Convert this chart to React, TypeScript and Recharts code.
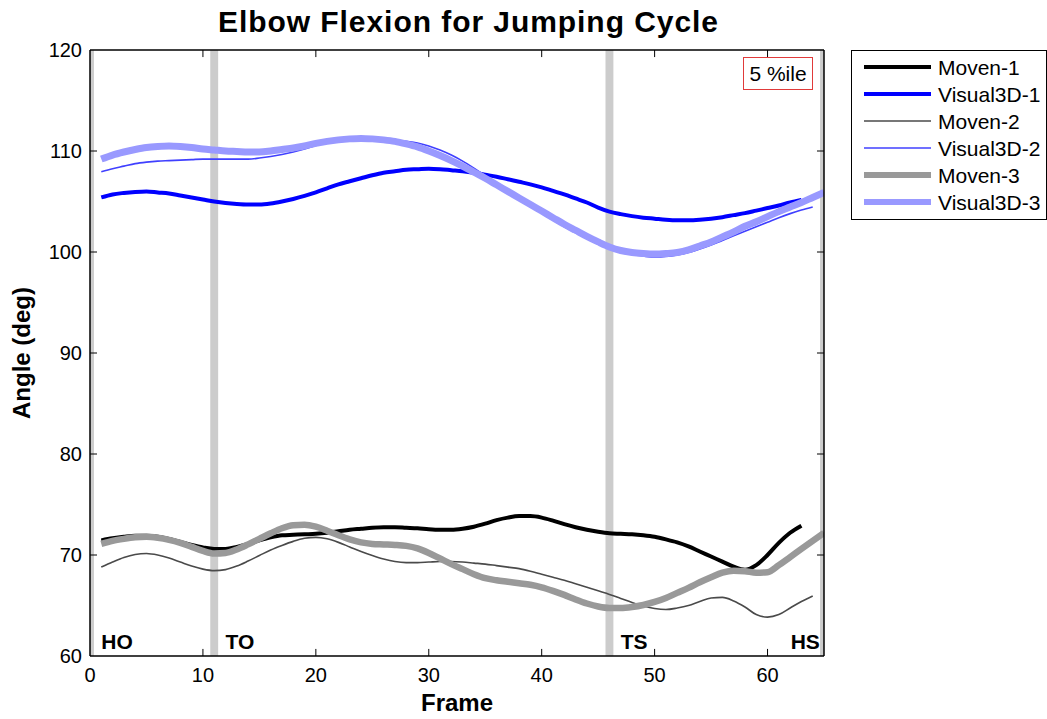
import React from 'react';
import { LineChart, Line, XAxis, YAxis, ReferenceArea, ReferenceLine, ReferenceDot } from 'recharts';

// ---- data (frame index starts at 1) ----
const moven1 = [71.45, 71.65, 71.8, 71.9, 71.9, 71.8, 71.6, 71.3, 71.0, 70.75, 70.6, 70.6, 70.8, 71.1, 71.45, 71.75, 71.95, 72.0, 72.05, 72.1, 72.2, 72.35, 72.5, 72.6, 72.7, 72.75, 72.75, 72.7, 72.65, 72.55, 72.5, 72.5, 72.6, 72.8, 73.1, 73.45, 73.7, 73.85, 73.85, 73.7, 73.4, 73.05, 72.75, 72.5, 72.3, 72.15, 72.1, 72.05, 71.95, 71.8, 71.55, 71.25, 70.85, 70.35, 69.85, 69.35, 68.85, 68.55, 69.0, 70.0, 71.2, 72.2, 72.9];
const visual3d1 = [105.4, 105.7, 105.85, 105.95, 106.0, 105.9, 105.8, 105.6, 105.4, 105.2, 105.0, 104.85, 104.75, 104.7, 104.7, 104.8, 105.0, 105.25, 105.55, 105.9, 106.3, 106.7, 107.0, 107.3, 107.6, 107.85, 108.0, 108.15, 108.2, 108.25, 108.2, 108.1, 108.0, 107.85, 107.65, 107.45, 107.2, 106.95, 106.7, 106.4, 106.05, 105.7, 105.3, 104.9, 104.4, 104.0, 103.75, 103.55, 103.4, 103.3, 103.2, 103.15, 103.15, 103.2, 103.3, 103.45, 103.65, 103.85, 104.1, 104.35, 104.6, 104.9, 105.15];
const moven2 = [68.8, 69.3, 69.75, 70.05, 70.15, 70.0, 69.7, 69.3, 68.9, 68.6, 68.45, 68.55, 68.9, 69.4, 69.95, 70.5, 70.95, 71.35, 71.65, 71.75, 71.6, 71.25, 70.8, 70.35, 69.95, 69.6, 69.35, 69.25, 69.25, 69.3, 69.35, 69.35, 69.3, 69.2, 69.1, 68.95, 68.8, 68.65, 68.4, 68.1, 67.8, 67.5, 67.15, 66.8, 66.45, 66.1, 65.7, 65.3, 64.95, 64.7, 64.6, 64.75, 65.0, 65.4, 65.75, 65.8, 65.45, 64.85, 64.1, 63.85, 64.1, 64.75, 65.4, 65.95];
const visual3d2 = [107.95, 108.25, 108.5, 108.75, 108.9, 109.0, 109.05, 109.1, 109.15, 109.2, 109.2, 109.2, 109.2, 109.2, 109.3, 109.45, 109.65, 109.9, 110.2, 110.55, 110.85, 111.1, 111.25, 111.3, 111.3, 111.2, 111.05, 110.95, 110.8, 110.5, 110.1, 109.6, 109.0, 108.3, 107.55, 106.8, 106.05, 105.3, 104.55, 103.85, 103.15, 102.5, 101.9, 101.35, 100.8, 100.35, 100.0, 99.75, 99.6, 99.5, 99.55, 99.7, 99.95, 100.3, 100.7, 101.15, 101.6, 102.05, 102.5, 102.95, 103.4, 103.8, 104.15, 104.45];
const moven3 = [71.1, 71.4, 71.6, 71.75, 71.8, 71.7, 71.5, 71.2, 70.8, 70.4, 70.15, 70.2, 70.55, 71.05, 71.6, 72.15, 72.65, 72.95, 73.0, 72.8, 72.4, 71.95, 71.55, 71.25, 71.1, 71.05, 71.0, 70.9, 70.65, 70.2, 69.65, 69.1, 68.6, 68.1, 67.7, 67.5, 67.35, 67.2, 67.05, 66.8, 66.45, 66.05, 65.6, 65.2, 64.9, 64.75, 64.75, 64.85, 65.05, 65.35, 65.75, 66.25, 66.75, 67.3, 67.8, 68.25, 68.45, 68.4, 68.25, 68.3, 69.0, 69.8, 70.6, 71.4, 72.2];
const visual3d3 = [109.2, 109.6, 109.9, 110.15, 110.35, 110.45, 110.5, 110.45, 110.35, 110.2, 110.1, 110.0, 109.95, 109.9, 109.9, 110.0, 110.15, 110.3, 110.5, 110.75, 110.95, 111.1, 111.2, 111.25, 111.2, 111.1, 110.95, 110.7, 110.4, 110.0, 109.55, 109.05, 108.5, 107.9, 107.3, 106.65, 106.0, 105.35, 104.7, 104.05, 103.4, 102.75, 102.15, 101.55, 101.0, 100.5, 100.15, 99.95, 99.85, 99.8, 99.85, 99.95, 100.2, 100.6, 101.0, 101.5, 102.0, 102.55, 103.0, 103.5, 104.0, 104.45, 104.9, 105.4, 105.9];

const xTicks = [0, 10, 20, 30, 40, 50, 60];
const yTicks = [60, 70, 80, 90, 100, 110, 120];
const eventFrames = [0, 11, 46, 65];
const eventLabels = [
  { label: 'HO', frame: 1.0 },
  { label: 'TO', frame: 12.0 },
  { label: 'TS', frame: 47.0 },
  { label: 'HS', frame: 62.05 },
];

const series = [
  { key: 'Moven-1', values: moven1, color: '#000000', width: 4 },
  { key: 'Visual3D-1', values: visual3d1, color: '#0000ff', width: 4 },
  { key: 'Moven-2', values: moven2, color: '#4a4a4a', width: 1.6 },
  { key: 'Visual3D-2', values: visual3d2, color: '#4040ff', width: 1.6 },
  { key: 'Moven-3', values: moven3, color: '#999999', width: 6.5 },
  { key: 'Visual3D-3', values: visual3d3, color: '#9999ff', width: 7 },
];

const N = 65;
const data = Array.from({ length: N }, (_, i) => {
  const row: any = { frame: i + 1 };
  series.forEach((s) => {
    if (i < s.values.length) row[s.key] = s.values[i];
  });
  return row;
});

const FONT = 'Liberation Sans, Arial, Helvetica, sans-serif';
const X_MIN = 0, X_MAX = 65, Y_MIN = 60, Y_MAX = 120;
const BAND_HALF = 0.35;
const TICK_X = 0.62, TICK_Y = 0.7;

export default function App() {
  const W = 1047, H = 719;
  return (
    <div style={{ position: 'absolute', left: 0, top: 0, width: W, height: H, background: '#fff' }}>
      <LineChart width={W} height={H} data={data} margin={{ top: 50, right: 223, bottom: 23, left: 30 }}>
        <XAxis
          dataKey="frame"
          type="number"
          domain={[X_MIN, X_MAX]}
          ticks={xTicks}
          axisLine={false}
          tickLine={false}
          tickSize={0}
          tickMargin={12}
          height={40}
          allowDataOverflow
          tick={{ fill: '#000', fontSize: 20, fontFamily: FONT }}
        />
        <YAxis
          type="number"
          domain={[Y_MIN, Y_MAX]}
          ticks={yTicks}
          axisLine={false}
          tickLine={false}
          tickSize={0}
          tickMargin={8}
          width={60}
          allowDataOverflow
          tick={{ fill: '#000', fontSize: 20, fontFamily: FONT }}
        />
        {eventFrames.map((f) => (
          <ReferenceArea
            key={'band' + f}
            x1={Math.max(X_MIN, f - BAND_HALF)}
            x2={Math.min(X_MAX, f + BAND_HALF)}
            y1={Y_MIN}
            y2={Y_MAX}
            fill="#cccccc"
            fillOpacity={1}
            stroke="none"
          />
        ))}
        {series.map((s) => (
          <Line
            key={s.key}
            dataKey={s.key}
            type="monotone"
            stroke={s.color}
            strokeWidth={s.width}
            dot={false}
            activeDot={false}
            isAnimationActive={false}
            strokeLinecap="butt"
            strokeLinejoin="round"
          />
        ))}
        {eventLabels.map((e) => (
          <ReferenceDot
            key={e.label}
            x={e.frame}
            y={Y_MIN}
            r={0}
            ifOverflow="visible"
            shape={(p: any) => (
              <text x={p.cx} y={p.cy - 7} fontWeight="bold" fontSize={21} fontFamily={FONT} fill="#000">
                {e.label}
              </text>
            )}
          />
        ))}
        <ReferenceLine y={Y_MAX} stroke="#000" strokeWidth={1.5} />
        <ReferenceLine y={Y_MIN} stroke="#000" strokeWidth={1.5} />
        <ReferenceLine x={X_MIN} stroke="#000" strokeWidth={1.5} />
        <ReferenceLine x={X_MAX} stroke="#000" strokeWidth={1.5} />
        {xTicks.slice(1).map((t) => (
          <ReferenceLine key={'bt' + t} segment={[{ x: t, y: Y_MIN }, { x: t, y: Y_MIN + TICK_Y }]} stroke="#000" strokeWidth={1} />
        ))}
        {xTicks.slice(1).map((t) => (
          <ReferenceLine key={'tt' + t} segment={[{ x: t, y: Y_MAX }, { x: t, y: Y_MAX - TICK_Y }]} stroke="#000" strokeWidth={1} />
        ))}
        {yTicks.slice(1, -1).map((t) => (
          <ReferenceLine key={'lt' + t} segment={[{ x: X_MIN, y: t }, { x: X_MIN + TICK_X, y: t }]} stroke="#000" strokeWidth={1} />
        ))}
        {yTicks.slice(1, -1).map((t) => (
          <ReferenceLine key={'rt' + t} segment={[{ x: X_MAX, y: t }, { x: X_MAX - TICK_X, y: t }]} stroke="#000" strokeWidth={1} />
        ))}
      </LineChart>
      <svg width={W} height={H} style={{ position: 'absolute', left: 0, top: 0, pointerEvents: 'none' }}>
        <text x={468} y={32} textAnchor="middle" fontWeight="bold" fontSize={30} fontFamily={FONT} fill="#000" textLength={500} lengthAdjust="spacing">
          Elbow Flexion for Jumping Cycle
        </text>
        <text x={457} y={711} textAnchor="middle" fontWeight="bold" fontSize={24} fontFamily={FONT} fill="#000">
          Frame
        </text>
        <text
          x={30}
          y={353}
          transform="rotate(-90 30 353)"
          textAnchor="middle"
          fontWeight="bold"
          fontSize={24}
          fontFamily={FONT}
          fill="#000"
        >
          Angle (deg)
        </text>
        <rect x={743.5} y={57.5} width={69} height={32} fill="#fff" stroke="#e03a3a" strokeWidth={1} />
        <text x={778} y={81} textAnchor="middle" fontSize={21} fontFamily={FONT} fill="#000">
          5 %ile
        </text>
        <rect x={851.5} y={50.5} width={195} height={169} fill="#fff" stroke="#000" strokeWidth={1} />
        {series.map((s, i) => (
          <g key={'lg' + s.key}>
            <line x1={864} x2={931} y1={67 + 27 * i} y2={67 + 27 * i} stroke={s.color} strokeWidth={Math.min(s.width, 6)} />
            <text x={938} y={67 + 27 * i + 7.5} fontSize={21} fontFamily={FONT} fill="#000">
              {s.key}
            </text>
          </g>
        ))}
      </svg>
    </div>
  );
}
